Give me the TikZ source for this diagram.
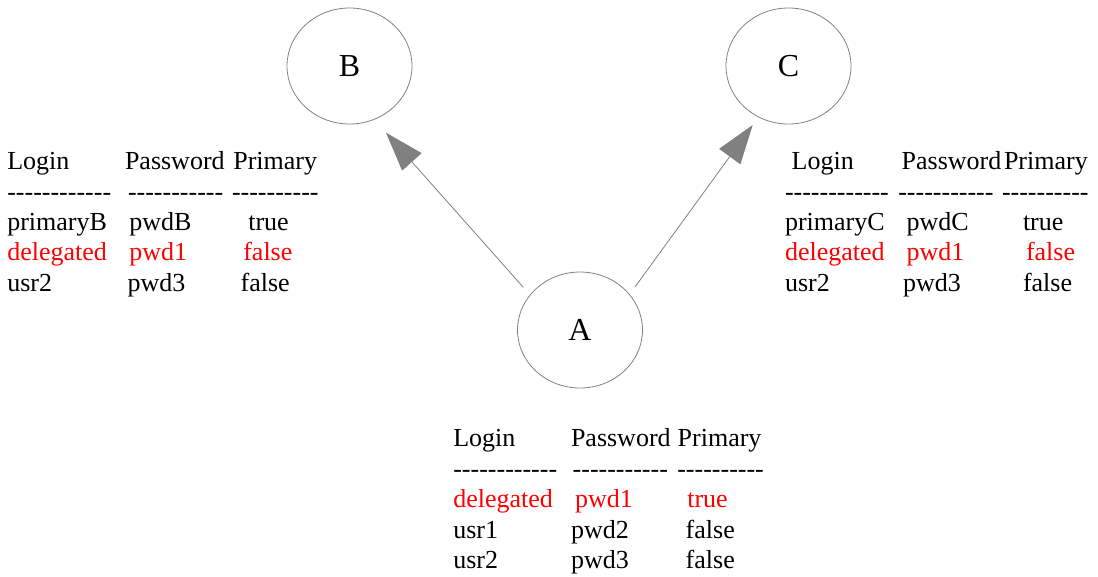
\documentclass[tikz,border=0pt]{standalone}
\usepackage{fontspec}
\setmainfont[Ligatures=TeXOff]{Liberation Serif}
\usetikzlibrary{arrows.meta,shapes.geometric}
\tikzset{
  txt/.style={anchor=base west, inner sep=0pt, outer sep=0pt, font=\fontsize{26}{31}\selectfont},
  hl/.style={txt, text=red},
  state/.style={ellipse, draw=gray, line width=0.8pt, minimum width=125pt, minimum height=116pt, inner sep=0pt, font=\fontsize{32}{38}\selectfont},
  edge/.style={draw=gray, line width=0.8pt, -{Triangle[length=39pt,width=26pt,fill=gray]}}
}
\begin{document}
\begin{tikzpicture}[x=1pt,y=-1pt]
\useasboundingbox (0,0) rectangle (1098,576);
% states
\node[state] (B) at (349.5,66) {B};
\node[state] (C) at (788.5,66) {C};
\node[state] (A) at (580,330) {A};
% edges
\draw[edge] ([shift={(-56.7,-42.7)}]A.center) -- ([shift={(36.5,66.7)}]B.center);
\draw[edge] ([shift={(55,-43)}]A.center) -- ([shift={(-35.8,59)}]C.center);
% table B
\node[txt] (bh1) at (7.3,169.3) {Login};
\node[txt] (bh2) at (125,169.3) {Password};
\node[txt] (bh3) at (233.3,169.3) {Primary};
\node[txt] (bd1) at (7.3,200) {------------};
\node[txt] (bd2) at (128,200) {-----------};
\node[txt] (bd3) at (232,200) {----------};
\node[txt] (b11) at (7.3,230.7) {primaryB};
\node[txt] (b12) at (129.3,230.7) {pwdB};
\node[txt] (b13) at (248.3,230.7) {true};
\node[hl] (b21) at (7.3,260.7) {delegated};
\node[hl] (b22) at (129.3,260.7) {pwd1};
\node[hl] (b23) at (243.3,260.7) {false};
\node[txt] (b31) at (7.3,291.7) {usr2};
\node[txt] (b32) at (127.7,291.7) {pwd3};
\node[txt] (b33) at (240.7,291.7) {false};
% table C
\node[txt] (ch1) at (791.7,169.3) {Login};
\node[txt] (ch2) at (901.7,169.3) {Password};
\node[txt] (ch3) at (1004,169.3) {Primary};
\node[txt] (cd1) at (785,200) {------------};
\node[txt] (cd2) at (898.3,200) {-----------};
\node[txt] (cd3) at (1002,200) {----------};
\node[txt] (c11) at (785,230.7) {primaryC};
\node[txt] (c12) at (906.7,230.7) {pwdC};
\node[txt] (c13) at (1023,230.7) {true};
\node[hl] (c21) at (785,260.7) {delegated};
\node[hl] (c22) at (906.7,260.7) {pwd1};
\node[hl] (c23) at (1026,260.7) {false};
\node[txt] (c31) at (785,291.7) {usr2};
\node[txt] (c32) at (903,291.7) {pwd3};
\node[txt] (c33) at (1023,291.7) {false};
% table A
\node[txt] (ah1) at (453.3,446.7) {Login};
\node[txt] (ah2) at (571,446.7) {Password};
\node[txt] (ah3) at (677.7,446.7) {Primary};
\node[txt] (ad1) at (453.3,477.5) {------------};
\node[txt] (ad2) at (572.7,477.5) {-----------};
\node[txt] (ad3) at (677.3,477.5) {----------};
\node[hl] (a11) at (453.3,507.3) {delegated};
\node[hl] (a12) at (575,507.3) {pwd1};
\node[hl] (a13) at (687.3,507.3) {true};
\node[txt] (a21) at (453.3,538.3) {usr1};
\node[txt] (a22) at (571,538.3) {pwd2};
\node[txt] (a23) at (685.7,538.3) {false};
\node[txt] (a31) at (453.3,568.3) {usr2};
\node[txt] (a32) at (571,568.3) {pwd3};
\node[txt] (a33) at (685.7,568.3) {false};
\end{tikzpicture}
\end{document}
